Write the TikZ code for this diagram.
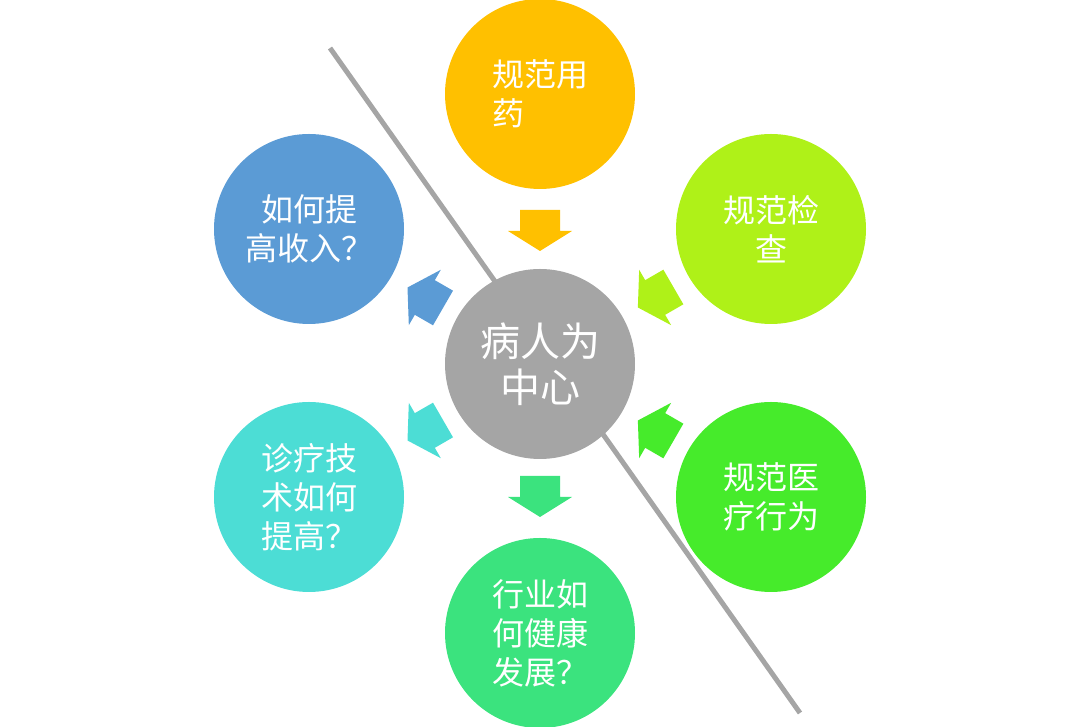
\documentclass[tikz,border=0pt]{standalone}
\usepackage{fontspec}
\setmainfont{Noto Sans CJK SC}
\definecolor{cOrange}{HTML}{FFC000}
\definecolor{cLime}{HTML}{AFF118}
\definecolor{cGreen}{HTML}{46EB2B}
\definecolor{cMint}{HTML}{3BE37E}
\definecolor{cCyan}{HTML}{4CDDD5}
\definecolor{cBlue}{HTML}{5B9BD5}
\definecolor{cGray}{HTML}{A5A5A5}
\newcommand\myoutarrow[2]{\fill[#2, shift={(540,363)}, rotate=#1] (112,-20) -- (133,-20) -- (133,-32) -- (153,0) -- (133,32) -- (133,20) -- (112,20) -- cycle;}
\newcommand\myinarrow[2]{\fill[#2, shift={(540,363)}, rotate=#1] (154,-20) -- (133,-20) -- (133,-32) -- (113,0) -- (133,32) -- (133,20) -- (154,20) -- cycle;}
\tikzset{
  bubble/.style={circle, minimum size=190pt, inner sep=0pt, text=white,
    font=\fontsize{32}{39}\selectfont},
  hub/.style={bubble, fill=cGray, font=\fontsize{40}{46}\selectfont, align=center},
  divider/.style={draw=cGray, line width=5pt}
}
\begin{document}
\begin{tikzpicture}[x=1pt,y=1pt]
\useasboundingbox (0,0) rectangle (1080,727);
\coordinate (l1) at (330,679);
\coordinate (l2) at (800,14);
\draw[divider] (l1) -- (l2);
\node[hub] (c) at (540,363) {病人为\\中心};
\node[bubble, fill=cOrange, align=left] (t) at (540,633) {规范用\\药};
\node[bubble, fill=cLime, align=center] (rt) at (771,498) {规范检\\查};
\node[bubble, fill=cGreen, align=center] (rb) at (771,230) {规范医\\疗行为};
\node[bubble, fill=cMint, align=left] (b) at (540,94) {行业如\\何健康\\发展？};
\node[bubble, fill=cCyan, align=left] (lb) at (309,230) {诊疗技\\术如何\\提高？};
\node[bubble, fill=cBlue, align=center] (lt) at (309,498) {如何提\\高收入？};
\myinarrow{90}{cOrange}
\myinarrow{30}{cLime}
\myinarrow{-30}{cGreen}
\myoutarrow{-90}{cMint}
\myoutarrow{210}{cCyan}
\myoutarrow{150}{cBlue}
\end{tikzpicture}
\end{document}
